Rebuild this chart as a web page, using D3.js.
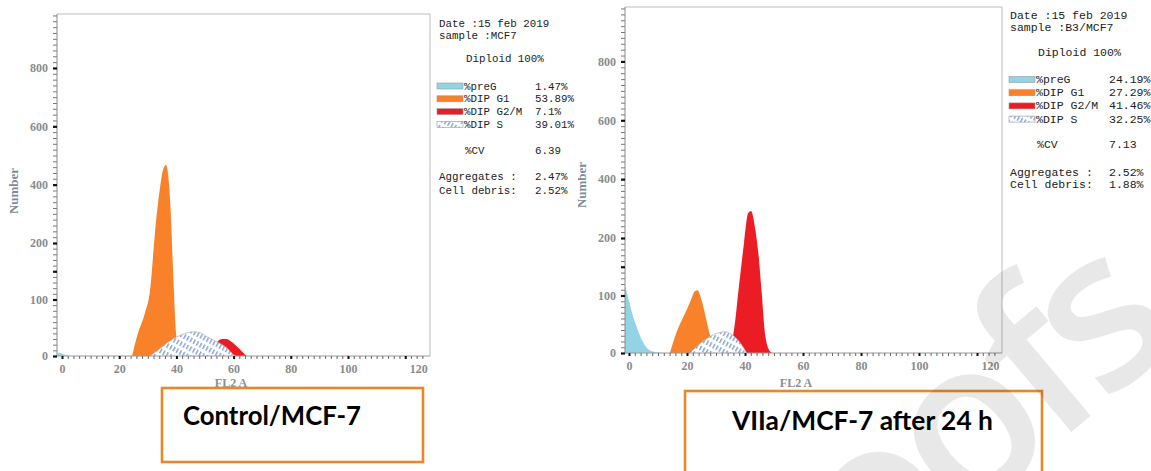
<!DOCTYPE html>
<html>
<head>
<meta charset="utf-8">
<script src="https://cdnjs.cloudflare.com/ajax/libs/d3/7.8.5/d3.min.js"></script>
<style>
  body { margin: 0; background: #fff; }
  svg { display: block; }
</style>
</head>
<body>
<svg id="chart" width="1151" height="471"></svg>
<script>
// cell cycle histograms, FL2 A channel vs number of cells
// each component is a list of [FL2 A, count] points

// control / MCF-7
const ctrlPreG = [[-1.5, 6], [0, 4], [2, 1], [4, 0]];
const ctrlG1 = [[24.5, 0], [26.6, 41], [29, 76], [30.8, 117], [32.5, 234], [34.3, 392], [35.3, 450], [36.4, 467], [37, 443], [37.8, 347], [38.8, 157], [39.9, 40], [40.5, 18], [41.3, 5], [42, 0]];
const ctrlG2 = [[51, 0], [53, 12], [54.5, 26], [56, 30], [57.5, 30], [59, 26], [60.5, 20], [62, 13], [63.5, 5], [64.6, 0]];
const ctrlS = [[30.8, 0], [33.5, 10], [36.7, 23], [40.2, 34], [43.7, 41], [46, 43], [48.5, 41], [50.7, 34], [54.2, 25], [57.7, 14], [59.8, 3], [60.8, 0]];

// VIIa / MCF-7 after 24 h
const trtPreG = [[-1.4, 118], [-0.2, 95], [1.5, 62], [3.2, 38], [4.5, 22], [6.3, 8], [8, 3], [10, 1], [12, 0]];
const trtG1 = [[14.1, 0], [16.4, 36], [18.7, 62], [21, 88], [22.8, 108], [23.6, 109], [25.1, 91], [26.2, 68], [27.3, 44], [28.2, 27], [29.5, 12], [31, 3], [32, 0]];
const trtG2 = [[33, 0], [34.5, 10], [36, 33], [38, 120], [39.7, 193], [41.1, 285], [42.1, 292], [43.4, 238], [44.6, 174], [45.8, 103], [46.9, 33], [48.6, 3], [49.6, 0]];
const trtS = [[21, 0], [25.6, 21], [30.2, 34], [33.1, 37], [36, 30], [38.3, 18], [40.6, 0]];

// axis ticks
const xTicks = [0, 20, 40, 60, 80, 100, 120];
const yTicks = [0, 100, 200, 400, 600, 800];

// legend text
const legendNames = ['%preG', '%DIP G1', '%DIP G2/M', '%DIP S'];
const ctrlPct = ['1.47%', '53.89%', '7.1%', '39.01%'];
const trtPct = ['24.19%', '27.29%', '41.46%', '32.25%'];
const ctrlInfo = { date: 'Date :15 feb 2019', sample: 'sample :MCF7', cv: '6.39', aggregates: '2.47%', debris: '2.52%' };
const trtInfo = { date: 'Date :15 feb 2019', sample: 'sample :B3/MCF7', cv: '7.13', aggregates: '2.52%', debris: '1.88%' };
const titles = ['Control/MCF-7', 'VIIa/MCF-7 after 24 h'];

const colors = { preG: '#92d3e5', g1: '#f8812a', g2: '#ec1c24', hatch: '#2f63b0', box: '#e8882a', tick: '#8b8b8b' };

const svg = d3.select('#chart');
const defs = svg.append('defs');

const hatch = defs.append('pattern')
    .attr('id', 'hatch')
    .attr('patternUnits', 'userSpaceOnUse')
    .attr('width', 3.6)
    .attr('height', 8)
    .attr('patternTransform', 'rotate(28)');
hatch.append('rect').attr('width', 3.6).attr('height', 8).attr('fill', '#fff');
hatch.append('line')
    .attr('x1', 0.8).attr('x2', 0.8).attr('y1', 0).attr('y2', 8)
    .attr('stroke', colors.hatch)
    .attr('stroke-width', 0.9)
    .attr('stroke-dasharray', '5,3');

function drawPanel(p, idx) {
    const x = d3.scaleLinear().domain([0, 100]).range([p.x0, p.x100]);
    const y = d3.scaleLinear().domain([0, 200, 985]).range([p.bottom, p.y200, p.top]);

    const g = svg.append('g');

    const clipId = 'clip' + idx;
    defs.append('clipPath').attr('id', clipId)
        .append('rect')
        .attr('x', p.left).attr('y', p.top)
        .attr('width', p.right - p.left).attr('height', p.bottom - p.top);

    // frame
    g.append('path')
        .attr('d', `M${p.left},${p.top}H${p.right}V${p.bottom}`)
        .attr('fill', 'none')
        .attr('stroke', '#bdbdbd')
        .attr('stroke-width', 1);

    const area = d3.area()
        .x(d => x(d[0]))
        .y0(y(0))
        .y1(d => y(d[1]))
        .curve(d3.curveMonotoneX);
    const line = d3.line()
        .x(d => x(d[0]))
        .y(d => y(d[1]))
        .curve(d3.curveMonotoneX);

    const plot = g.append('g').attr('clip-path', `url(#${clipId})`);
    plot.append('path').datum(p.preG).attr('d', area).attr('fill', colors.preG);
    plot.append('path').datum(p.g1).attr('d', area).attr('fill', colors.g1);
    plot.append('path').datum(p.g2).attr('d', area).attr('fill', colors.g2);
    plot.append('path').datum(p.s).attr('d', area).attr('fill', 'url(#hatch)');
    plot.append('path').datum(p.s).attr('d', line)
        .attr('fill', 'none').attr('stroke', '#b4b4b4').attr('stroke-width', 0.7);

    // y axis
    const minor = d3.range(0, 200, 10).concat(d3.range(200, 986, 20));
    const yMinorG = g.append('g')
        .attr('transform', `translate(${p.left},0)`)
        .call(d3.axisLeft(y).tickValues(minor).tickSize(4).tickFormat(''));
    yMinorG.select('.domain').remove();
    yMinorG.selectAll('line').attr('stroke', '#777');

    const yAxisG = g.append('g')
        .attr('transform', `translate(${p.left},0)`)
        .call(d3.axisLeft(y).tickValues(yTicks.concat([150])).tickSize(4).tickPadding(5)
            .tickFormat(d => d === 150 ? '' : d));
    yAxisG.select('.domain').attr('stroke', '#8a8a8a').attr('d', `M0,${p.top}V${p.bottom}`);
    yAxisG.selectAll('line').attr('stroke', '#111').attr('stroke-width', 2.2);
    yAxisG.selectAll('text')
        .attr('fill', colors.tick)
        .style('font-family', '"Liberation Serif", serif')
        .style('font-weight', 'bold')
        .style('font-size', '12px');

    // x axis
    const xMinor = d3.range(0, 128, 2);
    const xMinorG = g.append('g')
        .attr('transform', `translate(0,${p.bottom})`)
        .call(d3.axisBottom(x).tickValues(xMinor).tickSize(3).tickFormat(''));
    xMinorG.select('.domain').attr('stroke', '#9a9a9a').attr('d', `M${p.left},0H${p.right}`);
    xMinorG.selectAll('line').attr('stroke', '#666');

    const xAxisG = g.append('g')
        .attr('transform', `translate(0,${p.bottom})`)
        .call(d3.axisBottom(x).tickValues(xTicks).tickSize(3).tickPadding(5));
    xAxisG.select('.domain').remove();
    xAxisG.selectAll('line').attr('stroke', '#111').attr('stroke-width', 2);
    xAxisG.selectAll('text')
        .attr('fill', colors.tick)
        .style('font-family', '"Liberation Serif", serif')
        .style('font-weight', 'bold')
        .style('font-size', '12px');
    // last label sits further right in the original software
    xAxisG.selectAll('text').filter(d => d === 120).attr('dx', 13);

    // axis titles
    g.append('text')
        .attr('x', p.xTitleX).attr('y', p.xTitleY)
        .attr('text-anchor', 'middle')
        .attr('fill', '#8a8f98')
        .style('font-family', '"Liberation Serif", serif')
        .style('font-weight', 'bold')
        .style('font-size', '12px')
        .text('FL2 A');

    const yTitle = g.append('g');
    if (p.yTitleClip) {
        defs.append('clipPath').attr('id', 'ytclip' + idx)
            .append('rect').attr('x', p.yTitleClip).attr('y', 0).attr('width', 40).attr('height', 471);
        yTitle.attr('clip-path', `url(#ytclip${idx})`);
    }
    yTitle.append('text')
        .attr('transform', `translate(${p.yTitleX},${p.yTitleY}) rotate(-90)`)
        .attr('text-anchor', 'middle')
        .attr('fill', '#7f8b98')
        .style('font-family', '"Liberation Serif", serif')
        .style('font-weight', 'bold')
        .style('font-size', '13px')
        .text('Number');

    // legend block
    const L = p.legend;
    const lg = g.append('g')
        .style('font-family', '"Liberation Mono", "DejaVu Sans Mono", monospace')
        .style('font-size', L.fs + 'px')
        .attr('fill', '#222');
    lg.append('text').attr('x', L.x).attr('y', L.date).text(p.info.date);
    lg.append('text').attr('x', L.x).attr('y', L.sample).text(p.info.sample);
    lg.append('text').attr('x', L.indent).attr('y', L.diploid).text('Diploid 100%');

    const swatchFill = [colors.preG, colors.g1, colors.g2, 'url(#hatch)'];
    legendNames.forEach((name, i) => {
        const cy = L.row0 + i * L.rowGap;
        lg.append('rect')
            .attr('x', L.swX).attr('y', cy - 3)
            .attr('width', 26).attr('height', 6)
            .attr('fill', swatchFill[i])
            .attr('stroke', '#9a9a9a').attr('stroke-width', 0.6);
        lg.append('text').attr('x', L.swX + 27).attr('y', cy + 3.5).text(name);
        lg.append('text').attr('x', L.valX).attr('y', cy + 3.5).text(p.pct[i]);
    });
    lg.append('text').attr('x', L.indent - 1).attr('y', L.cv).text('%CV');
    lg.append('text').attr('x', L.valX).attr('y', L.cv).text(p.info.cv);
    lg.append('text').attr('x', L.x).attr('y', L.aggr).text('Aggregates :');
    lg.append('text').attr('x', L.valX).attr('y', L.aggr).text(p.info.aggregates);
    lg.append('text').attr('x', L.x).attr('y', L.debris).text('Cell debris:');
    lg.append('text').attr('x', L.valX).attr('y', L.debris).text(p.info.debris);

    // caption box
    const b = p.box;
    g.append('rect')
        .attr('x', b.x).attr('y', b.y)
        .attr('width', b.w).attr('height', b.h)
        .attr('fill', 'none')
        .attr('stroke', colors.box)
        .attr('stroke-width', 2.6);
    const cap = g.append('text')
        .attr('x', b.tx).attr('y', b.ty)
        .attr('fill', '#000')
        .style('font-family', 'Lato, "Open Sans", sans-serif')
        .style('font-weight', 'bold')
        .style('font-size', '24px')
        .text(p.title);
    const w = cap.node().getComputedTextLength();
    cap.style('font-size', (24 * b.tw / w) + 'px');
}

const panels = [
    {
        left: 57, right: 430, top: 14, bottom: 356, y200: 243, x0: 62, x100: 348,
        preG: ctrlPreG, g1: ctrlG1, g2: ctrlG2, s: ctrlS,
        xTitleX: 231, xTitleY: 387, yTitleX: 18, yTitleY: 191,
        info: ctrlInfo, pct: ctrlPct, title: titles[0],
        legend: { fs: 10.8, x: 439, indent: 466, swX: 437, valX: 535, date: 27, sample: 38.5, diploid: 62, row0: 86, rowGap: 12.8, cv: 154, aggr: 180, debris: 193.5 },
        box: { x: 162, y: 388, w: 261, h: 74, tx: 183, ty: 425, tw: 178 }
    },
    {
        left: 625, right: 1002, top: 7, bottom: 353, y200: 238, x0: 629, x100: 919,
        preG: trtPreG, g1: trtG1, g2: trtG2, s: trtS,
        xTitleX: 796, xTitleY: 387, yTitleX: 586, yTitleY: 185, yTitleClip: 578,
        info: trtInfo, pct: trtPct, title: titles[1],
        legend: { fs: 11.5, x: 1010, indent: 1038, swX: 1009, valX: 1109, date: 18.5, sample: 31, diploid: 56, row0: 79.5, rowGap: 13.2, cv: 148, aggr: 176, debris: 187.5 },
        box: { x: 685, y: 391, w: 357, h: 90, tx: 732, ty: 430, tw: 261 }
    }
];

panels.forEach(drawPanel);

// faint watermark from the source image
svg.append('text')
    .attr('transform', 'translate(1175,345) rotate(-40)')
    .attr('text-anchor', 'end')
    .attr('fill', '#000')
    .attr('fill-opacity', 0.09)
    .attr('letter-spacing', -14)
    .style('font-family', '"Open Sans", sans-serif')
    .style('font-weight', 600)
    .style('font-size', '220px')
    .text('Proofs');
</script>
</body>
</html>
